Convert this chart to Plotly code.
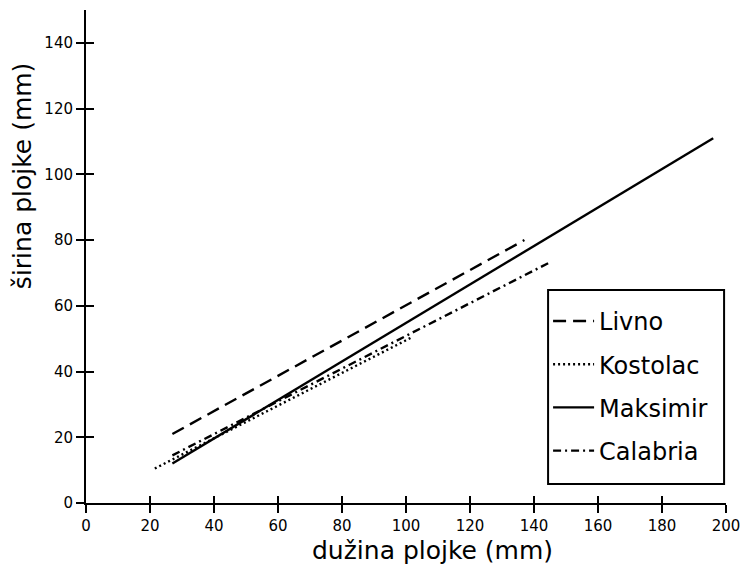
import plotly.graph_objects as go

# Data (endpoints of regression lines)
series_names = ["Livno", "Kostolac", "Maksimir", "Calabria"]
livno_x = [27, 137]
livno_y = [21, 80]
kostolac_x = [21.5, 102]
kostolac_y = [10.5, 50.5]
maksimir_x = [27, 196]
maksimir_y = [12, 111]
calabria_x = [27, 144.5]
calabria_y = [14.5, 73]

x_ticks = [0, 20, 40, 60, 80, 100, 120, 140, 160, 180, 200]
y_ticks = [0, 20, 40, 60, 80, 100, 120, 140]

x_title = "dužina plojke (mm)"
y_title = "širina plojke (mm)"

xs = [livno_x, kostolac_x, maksimir_x, calabria_x]
ys = [livno_y, kostolac_y, maksimir_y, calabria_y]
dashes = ["13px,7px", "2px,3px", "solid", "8px,4px,2px,4px"]

fig = go.Figure()
for name, x, y, d in zip(series_names, xs, ys, dashes):
    fig.add_trace(go.Scatter(
        x=x, y=y, mode="lines", name=name, legendgroup=name,
        line=dict(color="black", width=2.4, dash=d),
    ))

# invisible trace for the overlay axes carrying the inner half of the ticks
fig.add_trace(go.Scatter(x=[0], y=[0], xaxis="x2", yaxis="y2",
                         mode="markers", marker=dict(opacity=0),
                         showlegend=False, hoverinfo="skip"))

FONT = "DejaVu Sans, Verdana, sans-serif"

fig.update_layout(
    width=742, height=569,
    margin=dict(l=86, r=16, t=10, b=66),
    paper_bgcolor="white", plot_bgcolor="white",
    font=dict(family=FONT, color="black"),
    showlegend=True,
    legend=dict(
        x=0.722, y=0.414, xanchor="left", yanchor="top",
        borderwidth=0, bgcolor="rgba(0,0,0,0)",
        font=dict(size=24, family=FONT),
        tracegroupgap=9, traceorder="grouped",
        itemwidth=41,
    ),
    xaxis=dict(
        range=[0, 200], tickvals=x_ticks, ticktext=[str(v) for v in x_ticks],
        showgrid=False, zeroline=False, showline=True, linecolor="black", linewidth=2,
        ticks="outside", ticklen=8, tickwidth=2, tickcolor="black",
        tickfont=dict(size=15, family=FONT),
        automargin=False, ticklabeloverflow="allow",
    ),
    yaxis=dict(
        range=[0, 150], tickvals=y_ticks, ticktext=[str(v) for v in y_ticks],
        showgrid=False, zeroline=False, showline=True, linecolor="black", linewidth=2,
        ticks="outside", ticklen=8, tickwidth=2, tickcolor="black",
        tickfont=dict(size=15, family=FONT),
        automargin=False, ticklabeloverflow="allow",
    ),
    xaxis2=dict(
        range=[0, 200], tickvals=x_ticks, overlaying="x", side="bottom",
        showticklabels=False, showgrid=False, zeroline=False, showline=False,
        ticks="inside", ticklen=7, tickwidth=2, tickcolor="black",
    ),
    yaxis2=dict(
        range=[0, 150], tickvals=y_ticks, overlaying="y", side="left",
        showticklabels=False, showgrid=False, zeroline=False, showline=False,
        ticks="inside", ticklen=8, tickwidth=2, tickcolor="black",
    ),
    shapes=[
        dict(type="rect", xref="paper", yref="paper",
             x0=0.722, x1=0.997, y0=0.0385, y1=0.432,
             line=dict(color="black", width=2), fillcolor="rgba(0,0,0,0)",
             layer="above"),
    ],
    annotations=[
        dict(text=x_title, xref="paper", yref="paper", x=0.542, y=-0.097,
             xanchor="center", yanchor="middle", showarrow=False,
             font=dict(size=25, family=FONT)),
        dict(text=y_title, xref="paper", yref="paper", x=-0.1, y=0.663,
             xanchor="center", yanchor="middle", showarrow=False, textangle=-90,
             font=dict(size=25, family=FONT)),
    ],
)

fig.write_html(
    "out.html",
    config={"displayModeBar": False},
    post_script="document.body.style.margin='0';document.body.style.overflow='hidden';",
)
